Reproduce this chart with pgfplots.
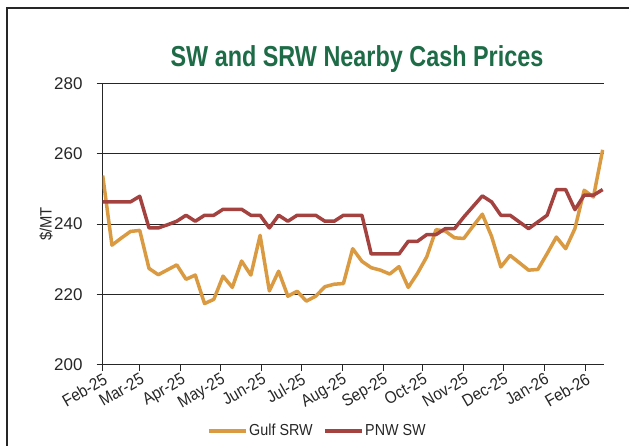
\documentclass[border=0pt]{standalone}
\usepackage{fontspec}
\setmainfont{Liberation Sans}[FakeStretch=0.9]
\newfontfamily\titlefont{Liberation Sans}[FakeStretch=0.81]
\newfontfamily\numfont{Liberation Sans}
\usepackage{pgfplots}
\usepackage{pgfplotstable}
\pgfplotsset{compat=1.18}
\definecolor{gulf}{HTML}{DA9A42}
\definecolor{pnw}{HTML}{A3423F}
\definecolor{ttl}{HTML}{1E6B47}
\pgfplotstableread{
day gulf pnw
0 253.8 246.3
7 234.0 246.3
14 236.0 246.3
21 237.9 246.3
28 238.2 247.9
35 227.4 238.9
42 225.6 238.9
49 227.0 239.8
56 228.4 240.8
63 224.3 242.5
70 225.5 240.8
77 217.4 242.5
84 218.6 242.5
91 225.2 244.2
98 222.0 244.2
105 229.5 244.2
112 225.5 242.5
119 236.8 242.5
126 221.0 238.9
133 226.6 242.5
140 219.5 240.8
147 220.9 242.5
154 218.1 242.5
161 219.5 242.5
168 222.2 240.8
175 222.9 240.8
182 223.1 242.5
189 233.0 242.5
196 229.4 242.5
203 227.6 231.5
210 226.9 231.5
217 225.8 231.5
224 227.9 231.5
231 222.0 235.1
238 226.0 235.1
245 230.7 237.0
252 238.4 237.0
259 238.0 238.7
266 236.1 238.7
273 235.9 242.0
280 239.4 245.0
287 242.8 248.0
294 236.5 246.3
301 227.8 242.5
308 231.1 242.5
315 229.0 240.6
322 226.9 238.7
329 227.1 240.6
336 231.6 242.5
343 236.3 249.8
350 233.0 249.8
357 238.7 244.1
364 249.6 248.2
371 247.7 248.2
378 261.1 249.8
}\prices
\begin{document}
\begin{tikzpicture}
\useasboundingbox (0,0) rectangle (629bp,-446bp);
\draw[line width=1.5bp, black!85] (7bp,-450bp) -- (7bp,-8bp) -- (640bp,-8bp);
\node[anchor=base, text=ttl, font=\titlefont\bfseries\fontsize{29}{32}\selectfont] at (357bp,-66bp) {SW and SRW Nearby Cash Prices};
\begin{axis}[
  scale only axis, width=501.3bp, height=281.5bp,
  at={(102.7bp,-364.8bp)}, anchor=south west,
  xmin=0, xmax=379, ymin=200, ymax=280,
  axis x line*=bottom, axis y line*=left,
  axis line style={black!85, line width=0.9bp},
  xtick={0,28,59,89,120,150,181,212,242,273,303,334,365},
  xticklabels={Feb-25,Mar-25,Apr-25,May-25,Jun-25,Jul-25,Aug-25,Sep-25,Oct-25,Nov-25,Dec-25,Jan-26,Feb-26},
  ytick={200,220,240,260,280},
  ymajorgrids, grid style={black!85, line width=0.9bp},
  tick align=outside, major tick length=6bp,
  tick style={black!85, line width=0.9bp},
  /pgf/number format/assume math mode=true,
  tick label style={font=\fontsize{17}{19}\selectfont, text=black!85},
  x tick label style={rotate=30, anchor=north east, inner sep=1bp},
  y tick label style={font=\numfont\fontsize{17}{19}\selectfont, inner sep=2bp, xshift=-12bp},
  ylabel={\$/MT},
  ylabel style={font=\fontsize{16.5}{18}\selectfont, text=black!85, at={(axis description cs:-0.113,0.5)}, anchor=center},
  legend columns=2,
  legend style={draw=none, fill=none, at={(axis description cs:0.428,-0.235)}, anchor=center,
    font=\fontsize{16}{18}\selectfont, text=black!85, nodes={inner sep=1.5bp},
    /tikz/every even column/.append style={column sep=9bp}},
  legend image code/.code={\draw[#1] (0bp,0bp) -- (37bp,0bp);},
  line join=round,
]
\addplot[color=gulf, line width=3.5bp] table[x=day, y=gulf] {\prices};
\addlegendentry{Gulf SRW}
\addplot[color=pnw, line width=3.5bp] table[x=day, y=pnw] {\prices};
\addlegendentry{PNW SW}
\end{axis}
\end{tikzpicture}
\end{document}
